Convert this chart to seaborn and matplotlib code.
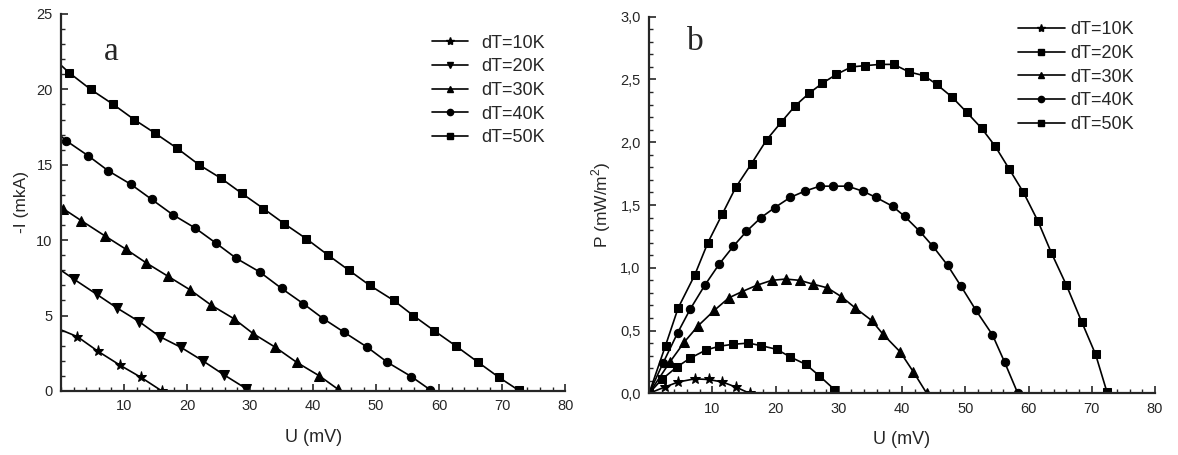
import matplotlib
matplotlib.use("Agg")
import matplotlib.pyplot as plt  # noqa
from matplotlib.ticker import MultipleLocator, FuncFormatter, FixedLocator
from matplotlib.lines import Line2D
import seaborn as sns

# panel a: -I vs U (first point of each list is the line start at the axis)
u_10 = [0, 2.6, 5.8, 9.4, 12.7, 16.0]
i_10 = [4.05, 3.6, 2.65, 1.7, 0.9, 0.0]
u_20 = [0, 2.1, 5.7, 8.9, 12.4, 15.7, 19.0, 22.5, 25.9, 29.4]
i_20 = [8.0, 7.4, 6.4, 5.5, 4.6, 3.6, 2.9, 2.0, 1.06, 0.15]
u_30 = [0, 0.3, 3.2, 6.9, 10.3, 13.5, 17.0, 20.5, 23.8, 27.4, 30.5, 34.0, 37.4, 41.0, 44.0]
i_30 = [12.2, 12.1, 11.3, 10.3, 9.4, 8.5, 7.6, 6.7, 5.7, 4.8, 3.8, 2.9, 1.9, 1.0, 0.1]
u_40 = [0, 0.8, 4.3, 7.5, 11.1, 14.4, 17.7, 21.3, 24.6, 27.8, 31.5, 35.0, 38.4, 41.6,
        44.9, 48.6, 51.8, 55.6, 58.6]
i_40 = [16.9, 16.6, 15.6, 14.6, 13.7, 12.7, 11.7, 10.8, 9.8, 8.8, 7.9, 6.8, 5.8, 4.8,
        3.9, 2.9, 1.9, 0.95, 0.07]
u_50 = [0, 1.3, 4.7, 8.3, 11.6, 14.9, 18.4, 21.9, 25.4, 28.7, 32.1, 35.4, 38.9, 42.4,
        45.7, 49.0, 52.8, 55.9, 59.2, 62.6, 66.2, 69.5, 72.6]
i_50 = [21.6, 21.1, 20.0, 19.0, 18.0, 17.1, 16.1, 15.0, 14.1, 13.1, 12.1, 11.1, 10.1, 9.0,
        8.0, 7.0, 6.0, 5.0, 4.0, 3.0, 1.9, 0.9, 0.05]

# panel b: P vs U
up_10 = [0, 2.5, 4.6, 7.2, 9.4, 11.6, 13.7, 15.9]
p_10 = [0, 0.05, 0.09, 0.115, 0.11, 0.09, 0.05, 0.0]
up_20 = [0, 2.0, 4.4, 6.5, 9.0, 11.1, 13.2, 15.7, 17.7, 20.2, 22.3, 24.8, 26.9, 29.3]
p_20 = [0, 0.11, 0.21, 0.28, 0.345, 0.375, 0.39, 0.40, 0.38, 0.35, 0.29, 0.23, 0.14, 0.03]
up_30 = [0, 3.3, 5.6, 7.8, 10.3, 12.6, 14.7, 17.0, 19.4, 21.6, 23.8, 25.9, 28.2, 30.4,
         32.6, 35.2, 37.0, 39.7, 41.8, 43.9]
p_30 = [0, 0.25, 0.41, 0.54, 0.66, 0.76, 0.81, 0.86, 0.90, 0.91, 0.90, 0.87, 0.84, 0.77,
        0.68, 0.58, 0.47, 0.33, 0.17, 0.0]
up_40 = [0, 2.2, 4.5, 6.5, 8.8, 11.1, 13.3, 15.4, 17.7, 19.9, 22.3, 24.6, 27.0, 29.1, 31.4,
         33.8, 35.9, 38.5, 40.4, 42.8, 44.9, 47.2, 49.3, 51.7, 54.3, 56.2, 58.3]
p_40 = [0, 0.24, 0.48, 0.67, 0.86, 1.03, 1.17, 1.29, 1.40, 1.48, 1.56, 1.61, 1.65, 1.65, 1.65,
        1.61, 1.56, 1.49, 1.41, 1.29, 1.17, 1.02, 0.855, 0.66, 0.465, 0.25, 0.0]
up_50 = [0, 2.6, 4.6, 7.2, 9.3, 11.6, 13.7, 16.2, 18.6, 20.9, 23.1, 25.3, 27.4, 29.6, 32.0,
         34.1, 36.5, 38.7, 41.1, 43.5, 45.5, 47.9, 50.2, 52.6, 54.7, 56.9, 59.2, 61.5, 63.6,
         66.0, 68.4, 70.6, 72.4]
p_50 = [0, 0.38, 0.68, 0.94, 1.20, 1.43, 1.64, 1.83, 2.02, 2.16, 2.29, 2.39, 2.47, 2.54, 2.60,
        2.61, 2.62, 2.62, 2.56, 2.53, 2.46, 2.36, 2.24, 2.11, 1.97, 1.79, 1.60, 1.37, 1.12,
        0.86, 0.57, 0.31, 0.01]

labels = ["dT=10K", "dT=20K", "dT=30K", "dT=40K", "dT=50K"]
markers_a = ["*", "v", "^", "o", "s"]
markers_b = ["*", "s", "^", "o", "s"]

sns.set_style("ticks")
plt.rcParams["font.family"] = ["Liberation Sans", "DejaVu Sans"]
plt.rcParams["mathtext.fontset"] = "custom"
plt.rcParams["mathtext.rm"] = "Liberation Sans"

fig = plt.figure(figsize=(11.78, 4.55), dpi=100)
ax_a = fig.add_axes([0.0518, 0.1407, 0.428, 0.8286])
ax_b = fig.add_axes([0.551, 0.1356, 0.4295, 0.8277])

msize = {"*": 8, "v": 6.5, "^": 6.5, "o": 6, "s": 5.5}


def draw(ax, us, vs, markers, skip_first):
    for u, v, m in zip(us, vs, markers):
        sns.lineplot(x=u, y=v, ax=ax, sort=False, estimator=None, color="black",
                     linewidth=1.2, marker=m, markersize=msize[m],
                     markeredgecolor="black", markerfacecolor="black",
                     markevery=slice(1, None) if skip_first else None)


def style(ax, ymax, ymajor, yminor):
    ax.set_xlim(0, 80)
    ax.set_ylim(0, ymax)
    ax.xaxis.set_major_locator(FixedLocator([10, 20, 30, 40, 50, 60, 70, 80]))
    ax.xaxis.set_minor_locator(MultipleLocator(2))
    ax.yaxis.set_major_locator(MultipleLocator(ymajor))
    ax.yaxis.set_minor_locator(MultipleLocator(yminor))
    for s in ["top", "right"]:
        ax.spines[s].set_visible(False)
    for s in ["left", "bottom"]:
        ax.spines[s].set_linewidth(1.6)
    ax.tick_params(which="major", direction="in", length=5, width=1.2, labelsize=10.5,
                   pad=6)
    ax.tick_params(which="minor", direction="in", length=3, width=1.0)
    ax.set_xlabel("U (mV)", fontsize=13, labelpad=11)


draw(ax_a, [u_10, u_20, u_30, u_40, u_50], [i_10, i_20, i_30, i_40, i_50], markers_a, True)
draw(ax_b, [up_10, up_20, up_30, up_40, up_50], [p_10, p_20, p_30, p_40, p_50], markers_b, False)

style(ax_a, 25, 5, 1)
style(ax_b, 3.0, 0.5, 0.1)
ax_a.set_ylabel("-I (mkA)", fontsize=12.5, labelpad=5)
ax_b.set_ylabel("P (mW/m$^2$)", fontsize=12.5, labelpad=5)
ax_b.yaxis.set_major_formatter(FuncFormatter(lambda v, p: f"{v:.1f}".replace(".", ",")))

ax_a.text(0.10, 0.90, "a", transform=ax_a.transAxes, fontsize=24,
          family="Liberation Serif", ha="center", va="center")
ax_b.text(0.091, 0.933, "b", transform=ax_b.transAxes, fontsize=24,
          family="Liberation Serif", ha="center", va="center")


def legend(ax, markers, anchor, hlen, tpad):
    handles = [Line2D([], [], color="black", linewidth=1.2, marker=m,
                      markersize=msize[m] * 0.75) for m in markers]
    ax.legend(handles, labels, loc="upper left", bbox_to_anchor=anchor, frameon=False,
              fontsize=13, handlelength=hlen, handletextpad=tpad, labelspacing=0.37,
              borderpad=0, borderaxespad=0)


legend(ax_a, markers_a, (0.736, 0.945), 2.0, 0.7)
legend(ax_b, markers_b, (0.729, 0.988), 2.6, 0.3)

fig.savefig("out.png", dpi=100)
